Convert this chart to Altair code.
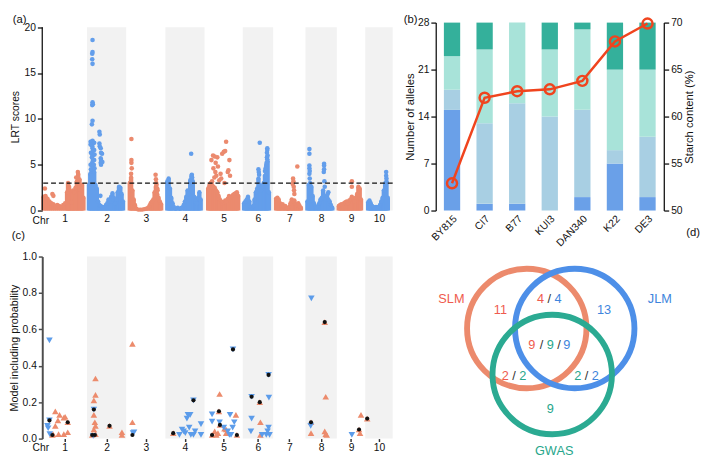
import json
import altair as alt
import pandas as pd

FONT = "Liberation Sans"
INK = "#111111"
ORANGE = "#EB8A6E"
BLUE = "#639EEB"
BAND = "#F2F2F2"

# ---------------- chromosomes (Mb-like units) ----------------
chr_names = ["1", "2", "3", "4", "5", "6", "7", "8", "9", "10"]
chr_len = [274, 240, 240, 240, 234, 186, 198, 192, 174, 168]
lrt_threshold = 3.0

# ---------------- panel (a): LRT scores ----------------
chr1_mass_pos = [8, 20, 32, 44, 56, 68, 80, 92, 104, 116, 128, 140, 152, 158, 164, 172, 180, 188, 196, 204, 212, 220, 228, 236, 244, 252]
chr1_mass_lrt = [1.5, 1.6, 1.3, 1.0, 0.8, 0.7, 0.5, 0.6, 0.5, 0.4, 0.6, 0.8, 2.0, 3.0, 2.6, 1.0, 0.9, 2.2, 2.0, 2.5, 3.2, 4.0, 3.4, 2.2, 2.8, 1.4]
chr1_pts_pos = [16, 62, 68, 208, 218, 224]
chr1_pts_lrt = [2.4, 1.8, 1.6, 3.6, 4.2, 3.0]

chr2_mass_pos = [12, 20, 28, 36, 44, 52, 60, 68, 76, 84, 92, 100, 108, 116, 124, 132, 140, 148, 156, 164, 172, 180, 188, 196, 204, 212, 220]
chr2_mass_lrt = [2.8, 4.0, 4.3, 4.4, 4.2, 2.8, 2.4, 1.0, 0.6, 0.5, 0.4, 0.3, 0.4, 0.6, 0.8, 1.2, 1.0, 1.5, 1.9, 1.4, 0.8, 1.2, 2.0, 2.6, 2.5, 1.8, 1.0]
chr2_pts_pos = [34, 34, 32, 32, 34, 34, 36, 32, 34, 30, 34, 36, 32, 34, 36, 32, 34, 30, 36, 32, 34,
                22, 22, 24, 22, 24, 44, 44, 46, 44, 42, 46, 76, 78, 76, 78, 84, 86, 84, 86, 84, 86, 92, 94, 82]
chr2_pts_lrt = [18.6, 17.3, 17.1, 16.5, 16.0, 11.8, 11.6, 11.5, 9.8, 9.4, 7.6, 7.3, 7.0, 6.8, 6.5, 6.2, 6.0, 5.8, 5.5, 5.2, 4.8,
                7.5, 7.2, 6.3, 5.0, 4.5, 7.4, 6.6, 6.1, 5.5, 5.0, 4.6, 8.6, 8.3, 7.3, 7.0, 6.8, 6.3, 5.7, 5.5, 5.2, 5.0, 6.2, 5.3, 1.6]

chr3_mass_pos = [22, 30, 38, 46, 54, 62, 74, 86, 98, 110, 122, 134, 142, 150, 158, 166, 174, 182, 190, 198, 206, 214]
chr3_mass_lrt = [3.0, 3.6, 2.2, 1.2, 0.6, 0.2, 0.1, 0.1, 0.1, 0.15, 0.2, 0.3, 0.5, 0.8, 1.0, 1.2, 2.0, 2.6, 1.8, 1.4, 1.0, 0.7]
chr3_pts_pos = [32, 32, 32, 34, 30, 180, 182, 184, 186, 190, 192]
chr3_pts_lrt = [7.8, 5.5, 5.2, 4.6, 4.0, 3.9, 3.4, 3.0, 2.8, 2.4, 2.2]

chr4_mass_pos = [12, 20, 28, 36, 44, 52, 64, 76, 88, 100, 112, 120, 128, 136, 144, 152, 160, 168, 176, 184, 192, 200, 208, 216]
chr4_mass_lrt = [3.2, 3.5, 2.4, 1.4, 0.8, 0.4, 0.2, 0.3, 0.2, 0.3, 0.6, 1.0, 1.5, 2.2, 1.8, 3.3, 3.8, 3.2, 1.5, 1.0, 0.8, 1.4, 2.0, 1.2]
chr4_pts_pos = [158, 162, 164]
chr4_pts_lrt = [6.2, 3.9, 3.6]

chr5_mass_pos = [22, 30, 38, 46, 54, 62, 70, 78, 86, 94, 102, 110, 118, 126, 134, 142, 150, 158, 166, 174, 182, 190, 198, 206]
chr5_mass_lrt = [2.4, 2.7, 2.5, 2.8, 2.6, 2.5, 2.2, 2.0, 1.6, 1.2, 1.0, 0.8, 0.9, 1.1, 1.0, 1.3, 1.6, 1.4, 1.5, 1.7, 1.8, 1.9, 2.0, 1.6]
chr5_pts_pos = [52, 62, 78, 42, 68, 82, 54, 66, 98, 72, 102, 38, 32, 118, 126, 132, 108, 152, 142, 156, 122, 90, 60, 46, 146]
chr5_pts_lrt = [6.0, 5.9, 5.8, 5.5, 5.2, 4.8, 4.6, 4.2, 4.0, 3.8, 3.5, 3.0, 2.8, 6.4, 6.5, 7.5, 6.2, 5.5, 4.2, 3.8, 3.0, 3.3, 3.6, 3.2, 4.4]

chr6_mass_pos = [8, 16, 24, 32, 40, 48, 56, 64, 72, 80, 88, 96, 104, 112, 120, 128, 136, 144, 152, 160]
chr6_mass_lrt = [0.8, 1.0, 1.2, 1.5, 1.0, 0.4, 0.3, 0.5, 1.2, 2.0, 2.4, 3.5, 2.8, 2.2, 2.6, 3.0, 3.8, 5.0, 5.4, 2.0]
chr6_pts_pos = [104, 96, 98, 100, 150, 150, 148, 152, 148, 150, 136, 140, 146]
chr6_pts_lrt = [7.4, 4.5, 4.2, 3.9, 6.8, 6.6, 6.3, 6.0, 5.8, 5.6, 4.3, 4.6, 5.2]

chr7_mass_pos = [18, 26, 34, 42, 50, 58, 66, 74, 82, 90, 98, 106, 114, 122, 130, 138, 146, 154, 162, 170]
chr7_mass_lrt = [1.3, 1.4, 1.2, 0.8, 0.6, 0.7, 0.4, 0.5, 0.3, 0.2, 0.4, 0.8, 1.2, 1.0, 1.1, 0.7, 0.6, 0.8, 0.5, 0.3]
chr7_pts_pos = [122, 124, 126, 128, 130, 120, 148]
chr7_pts_lrt = [3.5, 3.2, 2.6, 2.2, 1.8, 2.9, 4.8]

chr8_mass_pos = [12, 20, 28, 36, 44, 52, 60, 68, 76, 84, 92, 100, 108, 116, 124, 132, 140, 148, 156, 164]
chr8_mass_lrt = [1.0, 2.8, 3.0, 2.6, 1.6, 0.8, 0.4, 0.3, 0.5, 0.8, 1.2, 1.4, 2.2, 1.6, 1.2, 1.5, 1.2, 1.0, 0.6, 0.3]
chr8_pts_pos = [24, 24, 24, 24, 26, 24, 26, 114, 114, 114, 112, 116, 118, 140, 136]
chr8_pts_lrt = [6.7, 6.2, 4.9, 4.6, 4.3, 4.0, 3.5, 5.1, 4.9, 4.5, 4.2, 3.2, 2.6, 2.0, 1.8]

chr9_mass_pos = [12, 20, 28, 36, 44, 52, 60, 68, 76, 84, 92, 100, 108, 116, 124, 132, 140, 148]
chr9_mass_lrt = [0.5, 0.6, 0.7, 0.6, 0.8, 0.9, 1.0, 0.8, 1.1, 1.2, 1.5, 1.3, 1.0, 1.4, 1.8, 2.6, 2.4, 1.2]
chr9_pts_pos = [92, 92]
chr9_pts_lrt = [3.2, 2.6]

chr10_mass_pos = [18, 26, 34, 42, 50, 58, 66, 74, 82, 90, 98, 106, 114, 122, 130, 138]
chr10_mass_lrt = [0.9, 1.1, 0.8, 0.5, 0.4, 0.3, 0.4, 0.3, 0.4, 0.6, 1.0, 1.4, 2.2, 2.8, 3.2, 1.4]
chr10_pts_pos = [128, 128, 130, 124]
chr10_pts_lrt = [4.2, 3.8, 3.5, 3.0]

# ---------------- panel (b) ----------------
lines = ["BY815", "CI7", "B77", "KUI3", "DAN340", "K22", "DE3"]
allele_seg1 = [15, 1, 1, 0, 2, 7, 2]
allele_seg2 = [3, 12, 15, 14, 13, 2, 9]
allele_seg3 = [5, 11, 12, 10, 12, 12, 10]
allele_seg4 = [5, 4, 0, 4, 1, 7, 7]
starch = [52.9, 62.0, 62.7, 62.9, 63.8, 68.0, 69.9]

# ---------------- panel (c): genome position / probability ----------------
slm_pos = [80, 106, 132, 140, 96, 80, 66, 100, 132, 156, 156, 62,
           326, 326, 316, 316, 322, 326, 316, 326, 306, 412, 488, 488, 552, 552,
           802,
           1086, 1056, 1066, 1076, 1116, 1126, 1126, 1186, 1082, 1088, 1192, 1040,
           1332, 1336, 1336,
           1730, 1736, 1646, 1646, 1730, 1736, 1742,
           1940, 1952, 1946,
           1990]
slm_prob = [0.15, 0.13, 0.115, 0.12, 0.10, 0.07, 0.025, 0.025, 0.025, 0.035, 0.09, 0.02,
            0.33, 0.24, 0.21, 0.13, 0.09, 0.07, 0.05, 0.025, 0.02, 0.07, 0.035, 0.02, 0.52, 0.09,
            0.03,
            0.245, 0.04, 0.02, 0.03, 0.055, 0.05, 0.03, 0.13, 0.15, 0.075, 0.02, 0.02,
            0.20, 0.09, 0.02,
            0.64, 0.23, 0.09, 0.03, 0.04, 0.025, 0.02,
            0.05, 0.13, 0.03,
            0.11]
jlm_pos = [44, 44, 36, 46, 32,
           316, 312, 556, 562,
           840, 856, 876, 886, 892, 906, 900, 910, 926, 936, 972, 972, 926, 866,
           1040, 1040, 1086, 1112, 1146, 1166, 1176, 1168, 1156, 1136, 1150,
           1282, 1386, 1388, 1282, 1278, 1346, 1372, 1380, 1386, 1392,
           1648, 1644,
           1896]
jlm_prob = [0.54, 0.10, 0.057, 0.025, 0.07,
            0.16, 0.015, 0.03, 0.035,
            0.02, 0.05, 0.03, 0.11, 0.13, 0.13, 0.06, 0.02, 0.02, 0.04, 0.08, 0.02, 0.21, 0.04,
            0.133, 0.093, 0.09, 0.06, 0.02, 0.06, 0.09, 0.49, 0.02, 0.04, 0.13,
            0.23, 0.35, 0.225, 0.11, 0.04, 0.02, 0.02, 0.04, 0.06, 0.02,
            0.77, 0.07,
            0.02]
gwas_pos = [44, 62, 156, 306, 322, 316, 412, 552, 802, 926, 1040, 1082, 1088, 1168, 1192,
            1282, 1332, 1386, 1646, 1730, 1940, 1990]
gwas_prob = [0.10, 0.02, 0.09, 0.02, 0.02, 0.16, 0.07, 0.02, 0.03, 0.21, 0.02, 0.15, 0.075, 0.49, 0.02,
             0.23, 0.20, 0.35, 0.09, 0.64, 0.05, 0.11]

# ---------------- panel (d): Venn ----------------
venn_sets = ["SLM", "JLM", "GWAS"]
venn_cx = [0, 49, 26]
venn_cy = [0, 0, -47]
venn_text = ["SLM", "JLM", "GWAS", "11", "13", "9",
             "4", "/", "4",
             "9", "/", "9", "/", "9",
             "2", "/", "2",
             "2", "/", "2"]
venn_tx = [-77, 136, 28, -27, 79, 24,
           14, 23, 32,
           5, 15, 24, 33, 41,
           -22, -13, -4,
           52, 61, 70]
venn_ty = [30, 30, -125, 19, 19, -82,
           30, 30, 30,
           -17, -17, -17, -17, -17,
           -49, -49, -49,
           -49, -49, -49]
venn_key = ["slm", "jlm", "gwas", "slm", "jlm", "gwas",
            "slm", "sep", "jlm",
            "slm", "sep", "gwas", "sep", "jlm",
            "slm", "sep", "gwas",
            "gwas", "sep", "jlm"]

# ================= build =================
chr_start = []
acc = 0
for n in chr_len:
    chr_start.append(acc)
    acc += n
genome_end = acc
chr_mid = [s + n // 2 for s, n in zip(chr_start, chr_len)]
chr_label_expr = f"{json.dumps(chr_names)}[indexof({json.dumps(chr_mid)}, datum.value)]"

mass_pos = [chr1_mass_pos, chr2_mass_pos, chr3_mass_pos, chr4_mass_pos, chr5_mass_pos,
            chr6_mass_pos, chr7_mass_pos, chr8_mass_pos, chr9_mass_pos, chr10_mass_pos]
mass_lrt = [chr1_mass_lrt, chr2_mass_lrt, chr3_mass_lrt, chr4_mass_lrt, chr5_mass_lrt,
            chr6_mass_lrt, chr7_mass_lrt, chr8_mass_lrt, chr9_mass_lrt, chr10_mass_lrt]
pts_pos = [chr1_pts_pos, chr2_pts_pos, chr3_pts_pos, chr4_pts_pos, chr5_pts_pos,
           chr6_pts_pos, chr7_pts_pos, chr8_pts_pos, chr9_pts_pos, chr10_pts_pos]
pts_lrt = [chr1_pts_lrt, chr2_pts_lrt, chr3_pts_lrt, chr4_pts_lrt, chr5_pts_lrt,
           chr6_pts_lrt, chr7_pts_lrt, chr8_pts_lrt, chr9_pts_lrt, chr10_pts_lrt]


def chrom_frame(pos_lists, val_lists):
    rows = []
    for i, (ps, vs) in enumerate(zip(pos_lists, val_lists)):
        grp = "odd" if i % 2 == 0 else "even"
        for p, v in zip(ps, vs):
            rows.append({"g": chr_start[i] + p, "lrt": v, "grp": grp})
    return pd.DataFrame(rows)


mass_df = chrom_frame(mass_pos, mass_lrt)
pts_df = chrom_frame(pts_pos, pts_lrt)
band_df = pd.DataFrame({"g0": [chr_start[i] for i in range(1, 10, 2)],
                        "g1": [chr_start[i] + chr_len[i] for i in range(1, 10, 2)]})
dummy = pd.DataFrame({"k": [0]})

XS = alt.Scale(domain=[0, genome_end], nice=False, zero=False)


def x_axis(ticks):
    return alt.Axis(values=chr_mid, labelExpr=chr_label_expr, domain=False, ticks=ticks,
                    tickSize=3 if ticks else 0, tickColor="#333333", tickWidth=1.5,
                    labelPadding=1 if ticks else 3, labelAngle=0, grid=False,
                    title="Chr", titleX=-2, titleY=4 if ticks else 5, titleAlign="center",
                    titleBaseline="top", titleFontSize=10.5)


# ---- (a)
YS_a = alt.Scale(domain=[0, 20.5], nice=False, zero=False)
YA_a = alt.Axis(values=[0, 5, 10, 15, 20], domain=False, tickSize=5, tickColor=INK, tickWidth=1.3,
                labelPadding=2, title="LRT scores", titlePadding=3.5, titleFontSize=10.5, grid=False)
XA_a = x_axis(False)
col_a = alt.Color("grp:N", scale=alt.Scale(domain=["odd", "even"], range=[ORANGE, BLUE]), legend=None)

a_bands = alt.Chart(band_df).mark_rect(color=BAND).encode(
    x=alt.X("g0:Q", scale=XS, axis=XA_a), x2="g1:Q",
    y=alt.Y(datum=20, type="quantitative", scale=YS_a, axis=YA_a), y2=alt.Y2(datum=0))
a_mass = alt.Chart(mass_df).mark_rule(strokeWidth=4.5).encode(
    x=alt.X("g:Q", scale=XS, axis=XA_a),
    y=alt.Y("lrt:Q", scale=YS_a, axis=YA_a), y2=alt.Y2(datum=0), color=col_a)
a_mass_top = alt.Chart(mass_df).mark_circle(size=20, opacity=1).encode(
    x=alt.X("g:Q", scale=XS, axis=XA_a), y=alt.Y("lrt:Q", scale=YS_a, axis=YA_a), color=col_a)
a_pts = alt.Chart(pts_df).mark_circle(size=22, opacity=1).encode(
    x=alt.X("g:Q", scale=XS, axis=XA_a), y=alt.Y("lrt:Q", scale=YS_a, axis=YA_a), color=col_a)
a_thr = alt.Chart(dummy).mark_rule(color=INK, strokeWidth=1.3, strokeDash=[5, 3]).encode(
    y=alt.Y(datum=lrt_threshold, type="quantitative", scale=YS_a, axis=YA_a))
a_axis = alt.Chart(dummy).mark_rule(color=INK, strokeWidth=1.3).encode(
    x=alt.X(datum=0, type="quantitative", scale=XS, axis=XA_a),
    y=alt.Y(datum=0, type="quantitative", scale=YS_a, axis=YA_a), y2=alt.Y2(datum=20))

panel_a = alt.layer(a_bands, a_mass, a_mass_top, a_pts, a_thr, a_axis).properties(
    width=358, height=192,
    title=alt.TitleParams("(a)", anchor="start", offset=-3.5, dx=2))

# ---- (b)
seg_names = ["s1", "s2", "s3", "s4"]
seg_colors = ["#6AA0E8", "#A8CFE3", "#A8E3D9", "#34B09B"]
rows_b = []
for i, ln in enumerate(lines):
    for k, seg in enumerate([allele_seg1, allele_seg2, allele_seg3, allele_seg4]):
        rows_b.append({"line": ln, "seg": seg_names[k], "ord": k, "n": seg[i]})
bar_df = pd.DataFrame(rows_b)
starch_df = pd.DataFrame({"line": lines, "starch": starch})

XB = alt.X("line:N", sort=lines, scale=alt.Scale(paddingInner=0.5, paddingOuter=0.25),
           axis=alt.Axis(title=None, labelAngle=315, labelAlign="right", labelBaseline="top",
                         domain=False, ticks=False, tickSize=0, labelPadding=3))
b_bars = alt.Chart(bar_df).mark_bar().encode(
    x=XB,
    y=alt.Y("n:Q", stack="zero", scale=alt.Scale(domain=[0, 28], nice=False),
            axis=alt.Axis(values=[0, 7, 14, 21, 28], domainColor=INK, domainWidth=1.3, tickColor=INK,
                          tickWidth=1.3, tickSize=5, labelPadding=2, title="Number of alleles",
                          titlePadding=2, titleFontSize=11.5, grid=False)),
    color=alt.Color("seg:N", scale=alt.Scale(domain=seg_names, range=seg_colors), legend=None),
    order=alt.Order("ord:Q", sort="ascending"))
b_line = alt.Chart(starch_df).mark_line(
    color="#F0441E", strokeWidth=2.5,
    point=alt.OverlayMarkDef(filled=False, shape="circle", size=105, strokeWidth=2.5, color="#F0441E")
).encode(
    x=XB,
    y=alt.Y("starch:Q", scale=alt.Scale(domain=[50, 70], nice=False, zero=False),
            axis=alt.Axis(orient="right", values=[50, 55, 60, 65, 70], domainColor=INK, domainWidth=1.3,
                          tickColor=INK, tickWidth=1.3, tickSize=5, labelPadding=2,
                          title="Starch content (%)", titleAngle=270, titleBaseline="top",
                          titlePadding=2, titleFontSize=11.5, grid=False)))
panel_b = alt.layer(b_bars, b_line).resolve_scale(y="independent").properties(
    width=233, height=192,
    title=alt.TitleParams("(b)", anchor="start", offset=-12.5, dx=-1))

# ---- (c)
YS_c = alt.Scale(domain=[0, 1], nice=False, zero=False)
YA_c = alt.Axis(values=[0, 0.2, 0.4, 0.6, 0.8, 1.0], format=".1f", domainColor="#4D4D4D", domainWidth=2,
                tickColor="#4D4D4D", tickWidth=1.5, tickSize=4, labelPadding=2,
                title="Model including probability", titlePadding=2.5, titleFontSize=11, grid=False)
XA_c = x_axis(True)
slm_df = pd.DataFrame({"g": slm_pos, "p": slm_prob})
jlm_df = pd.DataFrame({"g": jlm_pos, "p": jlm_prob})
gwas_df = pd.DataFrame({"g": gwas_pos, "p": gwas_prob})

c_bands = alt.Chart(band_df).mark_rect(color=BAND).encode(
    x=alt.X("g0:Q", scale=XS, axis=XA_c), x2="g1:Q",
    y=alt.Y(datum=1, type="quantitative", scale=YS_c, axis=YA_c), y2=alt.Y2(datum=0))
c_slm = alt.Chart(slm_df).mark_point(shape="triangle-up", filled=True, size=45, opacity=1, color="#EC8B6C").encode(
    x=alt.X("g:Q", scale=XS, axis=XA_c), y=alt.Y("p:Q", scale=YS_c, axis=YA_c))
c_jlm = alt.Chart(jlm_df).mark_point(shape="triangle-down", filled=True, size=45, opacity=1, color="#5C9CEA").encode(
    x=alt.X("g:Q", scale=XS, axis=XA_c), y=alt.Y("p:Q", scale=YS_c, axis=YA_c))
c_gwas = alt.Chart(gwas_df).mark_circle(size=18, opacity=1, color="#111111").encode(
    x=alt.X("g:Q", scale=XS, axis=XA_c), y=alt.Y("p:Q", scale=YS_c, axis=YA_c))
panel_c = alt.layer(c_bands, c_slm, c_jlm, c_gwas).properties(
    width=358, height=186,
    title=alt.TitleParams("(c)", anchor="start", offset=10, dx=3))

# ---- (d)
DXS = alt.Scale(domain=[-93, 168], nice=False, zero=False)
DYS = alt.Scale(domain=[-112.5, 73.5], nice=False, zero=False)
circ_df = pd.DataFrame({"set": venn_sets, "cx": venn_cx, "cy": venn_cy})
vtxt_df = pd.DataFrame({"t": venn_text, "x": venn_tx, "y": venn_ty, "key": venn_key})
d_circ = alt.Chart(circ_df).mark_point(shape="circle", filled=False, strokeWidth=6, size=14884, opacity=1).encode(
    x=alt.X("cx:Q", scale=DXS, axis=None), y=alt.Y("cy:Q", scale=DYS, axis=None),
    color=alt.Color("set:N", scale=alt.Scale(domain=venn_sets, range=["#EC8A6C", "#4D8FE8", "#2BAA92"]),
                    legend=None))
d_text = alt.Chart(vtxt_df).mark_text(font=FONT, fontSize=13, align="center", baseline="middle").encode(
    x=alt.X("x:Q", scale=DXS, axis=None), y=alt.Y("y:Q", scale=DYS, axis=None), text="t:N",
    color=alt.Color("key:N", scale=alt.Scale(domain=["slm", "jlm", "gwas", "sep"],
                                             range=["#EF5B4E", "#3E85DD", "#27A68B", "#333333"]),
                    legend=None))
panel_d = alt.layer(d_circ, d_text).resolve_scale(color="independent").properties(
    width=261, height=186,
    title=alt.TitleParams("(d)", anchor="end", frame="group", offset=19, dx=9))

chart = alt.concat(panel_a, panel_b, panel_c, panel_d, columns=2,
                   spacing={"row": 47, "column": 44}, bounds="flush", align="each").resolve_scale(
    color="independent"
).properties(
    padding=0
).configure_view(stroke="transparent").configure_axis(
    labelFont=FONT, titleFont=FONT, labelFontSize=10.5, titleFontSize=11,
    labelColor=INK, titleColor=INK, titleFontWeight="normal", grid=False
).configure_title(font=FONT, fontSize=11.5, fontWeight="normal", color=INK)

chart.save("out.html", embed_options={"renderer": "svg", "actions": False})
